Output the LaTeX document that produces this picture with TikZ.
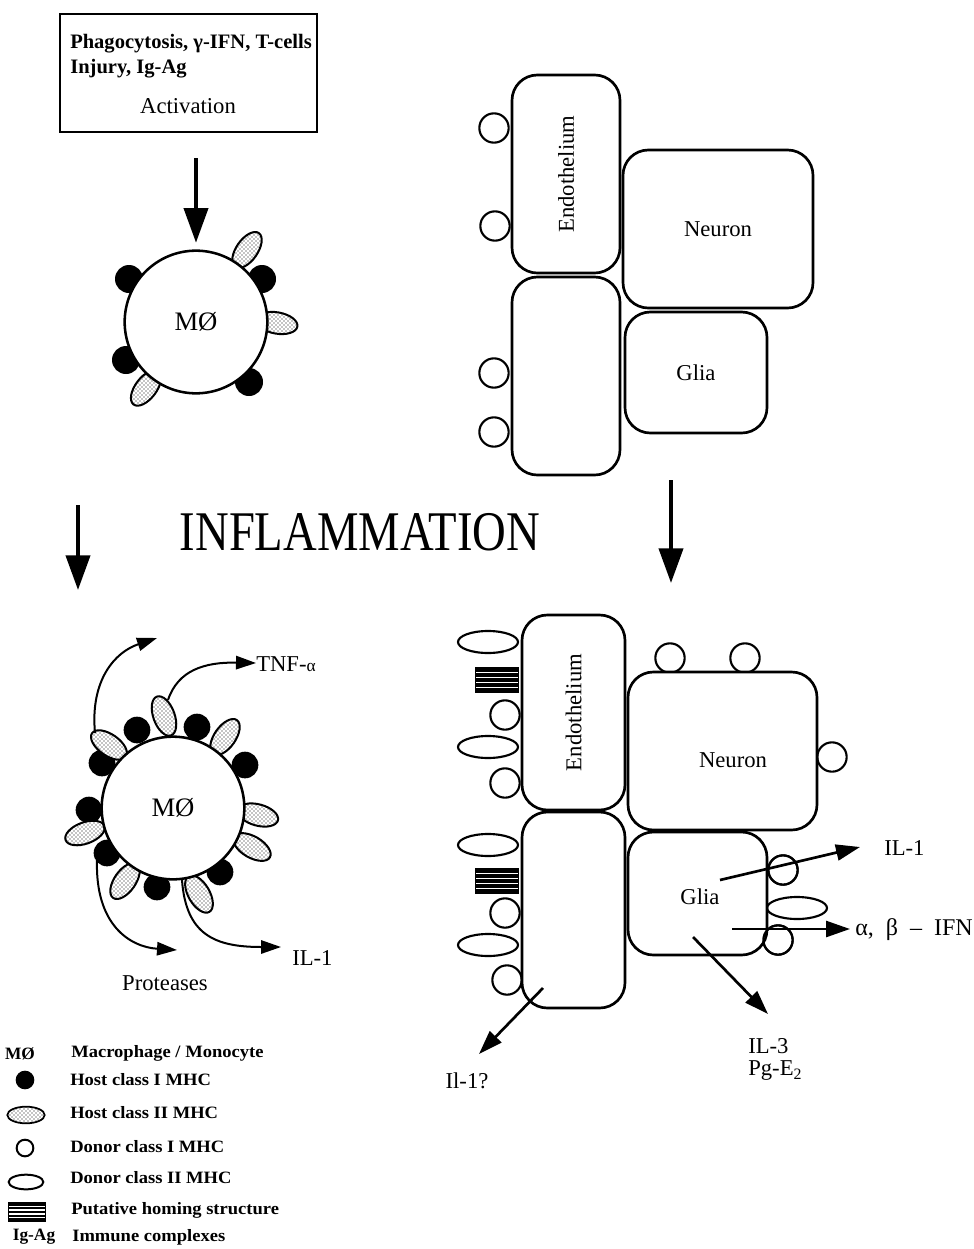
\documentclass[tikz,border=0pt]{standalone}
\usepackage{fontspec}
\setmainfont{Liberation Serif}
\usetikzlibrary{arrows.meta,shapes.geometric,patterns,calc}
\begin{document}
\begin{tikzpicture}[x=0.75pt,y=-0.75pt,
  cell/.style={draw, line width=2pt, rounded corners=19pt, fill=white, inner sep=0pt},
  donorI/.style={circle, draw, line width=1.6pt, fill=white, minimum size=22pt, inner sep=0pt},
  donorII/.style={ellipse, draw, line width=1.6pt, fill=white, minimum width=45pt, minimum height=16.5pt, inner sep=0pt},
  hostI/.style={circle, fill=black, minimum size=21pt, inner sep=0pt},
  hostII/.style={ellipse, draw, line width=1.5pt, preaction={fill=white}, pattern=crosshatch dots, minimum width=31pt, minimum height=16pt, inner sep=0pt},
  homing/.style={rectangle, draw, line width=1pt, fill=black, minimum width=32pt, minimum height=19pt, inner sep=0pt,
    path picture={\foreach \f in {0.2,0.4,0.6,0.8}{\draw[white, line width=1pt] ($(path picture bounding box.north west)!\f!(path picture bounding box.south west)$) -- ($(path picture bounding box.north east)!\f!(path picture bounding box.south east)$);}}},
  mac/.style={circle, draw, line width=1.9pt, fill=white, minimum size=107pt, inner sep=0pt, font=\fontsize{20}{24}\selectfont},
  lbl/.style={font=\fontsize{17}{20}\selectfont, inner sep=0pt},
  boxtxt/.style={font=\bfseries\fontsize{15.4}{18}\selectfont, inner sep=0pt},
  legtxt/.style={font=\bfseries\fontsize{13}{15}\selectfont, inner sep=0pt, anchor=west, xscale=1.07},
  bigarrow/.style={line width=3pt, -{Triangle[length=26pt,width=18pt]}},
  smallarrow/.style={line width=1.5pt, -{Triangle[length=15pt,width=10pt]}},
  midarrow/.style={line width=2pt, -{Triangle[length=18pt,width=12pt]}}
]
\useasboundingbox (0,0) rectangle (974,1249);

% ---------- activation box ----------
\node[draw, line width=1.5pt, minimum width=192.75pt, minimum height=88.5pt, inner sep=0pt] (box) at (188.5,73) {};
\node[boxtxt, anchor=base west] (t1) at (70,48) {Phagocytosis, γ-IFN, T-cells};
\node[boxtxt, anchor=base west] (t2) at (70,73) {Injury, Ig-Ag};
\node[lbl, anchor=base] (t3) at (188,113) {Activation};

% ---------- top macrophage ----------
\node[hostI] (d1) at (129,279) {};
\node[hostI] (d2) at (262,279) {};
\node[hostI] (d3) at (126,360) {};
\node[hostI] (d4) at (249,382) {};
\node[hostII, rotate=55] (e1) at (247,250) {};
\node[hostII, rotate=-10] (e2) at (277,323) {};
\node[hostII, rotate=53] (e3) at (146,388) {};
\node[mac] (mac1) at (196,322) {MØ};
\draw[bigarrow, shorten <=18.75pt, shorten >=5pt] (box.south -| mac1.north) -- (mac1.north);

% ---------- top right cells ----------
\node[donorI] (c1) at (494,128) {};
\node[donorI] (c2) at (495,226) {};
\node[donorI] (c3) at (494,373) {};
\node[donorI] (c4) at (494,432) {};
\node[cell, minimum width=81pt, minimum height=148.5pt] (endoA) at (566,174) {};
\node[cell, minimum width=81pt, minimum height=148.5pt] (endoB) at (566,376) {};
\node[cell, minimum width=142.5pt, minimum height=118.5pt] (neuA) at (718,229) {};
\node[cell, minimum width=106.5pt, minimum height=90.75pt] (gliaA) at (696,372.5) {};
\node[lbl, rotate=90] at (endoA) {Endothelium};
\node[lbl] at (neuA) {Neuron};
\node[lbl] at (gliaA) {Glia};

% ---------- inflammation ----------
\node[font=\fontsize{35}{40}\selectfont, inner sep=0pt, yscale=1.2] (infl) at (360,532) {INFLAMMATION};
\coordinate (la0) at (78,505);
\coordinate (la1) at (78,590);
\coordinate (ra0) at (671,480);
\coordinate (ra1) at (671,583);
\draw[bigarrow] (la0) -- (la1);
\draw[bigarrow] (ra0) -- (ra1);

% ---------- bottom macrophage ----------
\node[hostI, minimum size=20pt] (b1) at (137,730) {};
\node[hostI, minimum size=20pt] (b2) at (197,727) {};
\node[hostI, minimum size=20pt] (b3) at (245,765) {};
\node[hostI, minimum size=20pt] (b4) at (89,810) {};
\node[hostI, minimum size=20pt] (b5) at (102,763) {};
\node[hostI, minimum size=20pt] (b6) at (107,853) {};
\node[hostI, minimum size=20pt] (b7) at (157,887) {};
\node[hostI, minimum size=20pt] (b8) at (220,872) {};
\node[hostII, rotate=110] (f1) at (164,716) {};
\node[hostII, rotate=-35] (f2) at (109,745) {};
\node[hostII, rotate=55] (f3) at (225,737) {};
\node[hostII, rotate=-15] (f4) at (258,815) {};
\node[hostII, rotate=20] (f5) at (85,833) {};
\node[hostII, rotate=-30] (f6) at (252,847) {};
\node[hostII, rotate=55] (f7) at (125,881) {};
\node[hostII, rotate=-60] (f8) at (199,894) {};
\node[mac] (mac2) at (173,808) {MØ};

\coordinate (ul0) at (95,733);
\coordinate (ul1) at (157,638);
\coordinate (tn0) at (168,700);
\coordinate (tn1) at (256,663);
\coordinate (pr0) at (97,860);
\coordinate (pr1) at (177,950);
\coordinate (il0) at (182,880);
\coordinate (il1) at (281,947);
\draw[smallarrow] (ul0) .. controls (90,680) and (115,652) .. (ul1);
\draw[smallarrow] (tn0) .. controls (178,670) and (205,662) .. (tn1);
\draw[smallarrow] (pr0) .. controls (95,925) and (130,947) .. (pr1);
\draw[smallarrow] (il0) .. controls (186,935) and (215,947) .. (il1);
\node[lbl, anchor=west] (tnf) at (256,664) {TNF-{\fontsize{13}{15}\selectfont α}};
\node[lbl, anchor=west] (il1lbl) at (292,958) {IL-1};
\node[lbl] (prot) at (165,983) {Proteases};

% ---------- bottom right cells ----------
\node[donorII] (g1) at (488,642) {};
\node[homing] (h1) at (497,680) {};
\node[donorI] (g2) at (505,715) {};
\node[donorII] (g3) at (488,747) {};
\node[donorI] (g4) at (505,783) {};
\node[donorII] (g5) at (488,845) {};
\node[homing] (h2) at (497,881) {};
\node[donorI] (g6) at (505,913) {};
\node[donorII] (g7) at (488,945) {};
\node[donorI] (g8) at (507,980) {};
\node[donorI] (g9) at (670,658) {};
\node[donorI] (g10) at (745,658) {};
\node[donorI] (g11) at (832,757) {};
\node[donorI] (g12) at (783,870) {};
\node[donorII] (g13) at (797,908) {};
\node[donorI] (g14) at (778,940) {};
\node[cell, minimum width=77.25pt, minimum height=146.25pt] (endoC) at (573.5,712.5) {};
\node[cell, minimum width=77.25pt, minimum height=147pt] (endoD) at (573.5,910) {};
\node[cell, minimum width=141.75pt, minimum height=118.5pt] (neuB) at (722.5,751) {};
\node[cell, minimum width=104.25pt, minimum height=92.25pt] (gliaB) at (697.5,893.5) {};
\node[donorI, fill=none] (g12b) at (783,870) {};
\node[donorI, fill=none] (g14b) at (778,940) {};
\node[lbl, rotate=90] at (endoC) {Endothelium};
\node[lbl] (neuBl) at (733,760) {Neuron};
\node[lbl] (gliaBl) at (700,897) {Glia};

\coordinate (a1s) at (720,880);
\coordinate (a1e) at (860,847);
\coordinate (a2s) at (732,929);
\coordinate (a2e) at (850,929);
\coordinate (a3s) at (693,937);
\coordinate (a3e) at (768,1014);
\coordinate (a4s) at (543,988);
\coordinate (a4e) at (479,1054);
\draw[midarrow] (a1s) -- (a1e);
\draw[midarrow] (a2s) -- (a2e);
\draw[midarrow] (a3s) -- (a3e);
\draw[midarrow] (a4s) -- (a4e);
\node[lbl, anchor=west] (l1) at (884,848) {IL-1};
\node[lbl, anchor=west, font=\fontsize{18}{21}\selectfont] (l2) at (855,930) {α,\enspace β\enspace –\enspace IFN};
\node[lbl, anchor=west] (l3) at (748,1046) {IL-3};
\node[lbl, anchor=west] (l4) at (748,1071) {Pg-E\textsubscript{2}};
\node[lbl] (l5) at (467,1081) {Il-1?};

% ---------- legend ----------
\node[font=\bfseries\fontsize{13}{15}\selectfont, inner sep=0pt] (kmo) at (20,1054) {MØ};
\node[hostI, minimum size=14pt] (kh1) at (25,1080) {};
\node[hostII, minimum width=28pt, minimum height=12.5pt, line width=1.3pt] (kh2) at (26,1115) {};
\node[donorI, minimum size=12.5pt, line width=1.5pt] (kd1) at (25,1148) {};
\node[donorII, minimum width=26pt, minimum height=11pt, line width=1.5pt] (kd2) at (26,1182) {};
\node[homing, minimum width=27.5pt, minimum height=14pt] (khs) at (27,1212) {};
\node[font=\bfseries\fontsize{13}{15}\selectfont, inner sep=0pt] (kig) at (34,1237) {Ig-Ag};
\node[legtxt] at (71,1053) {Macrophage / Monocyte};
\node[legtxt] at (70,1080) {Host class I MHC};
\node[legtxt] at (70,1113) {Host class II MHC};
\node[legtxt] at (70,1147) {Donor class I MHC};
\node[legtxt] at (70,1178) {Donor class II MHC};
\node[legtxt] at (71,1210) {Putative homing structure};
\node[legtxt] at (72,1237) {Immune complexes};
\end{tikzpicture}
\end{document}
